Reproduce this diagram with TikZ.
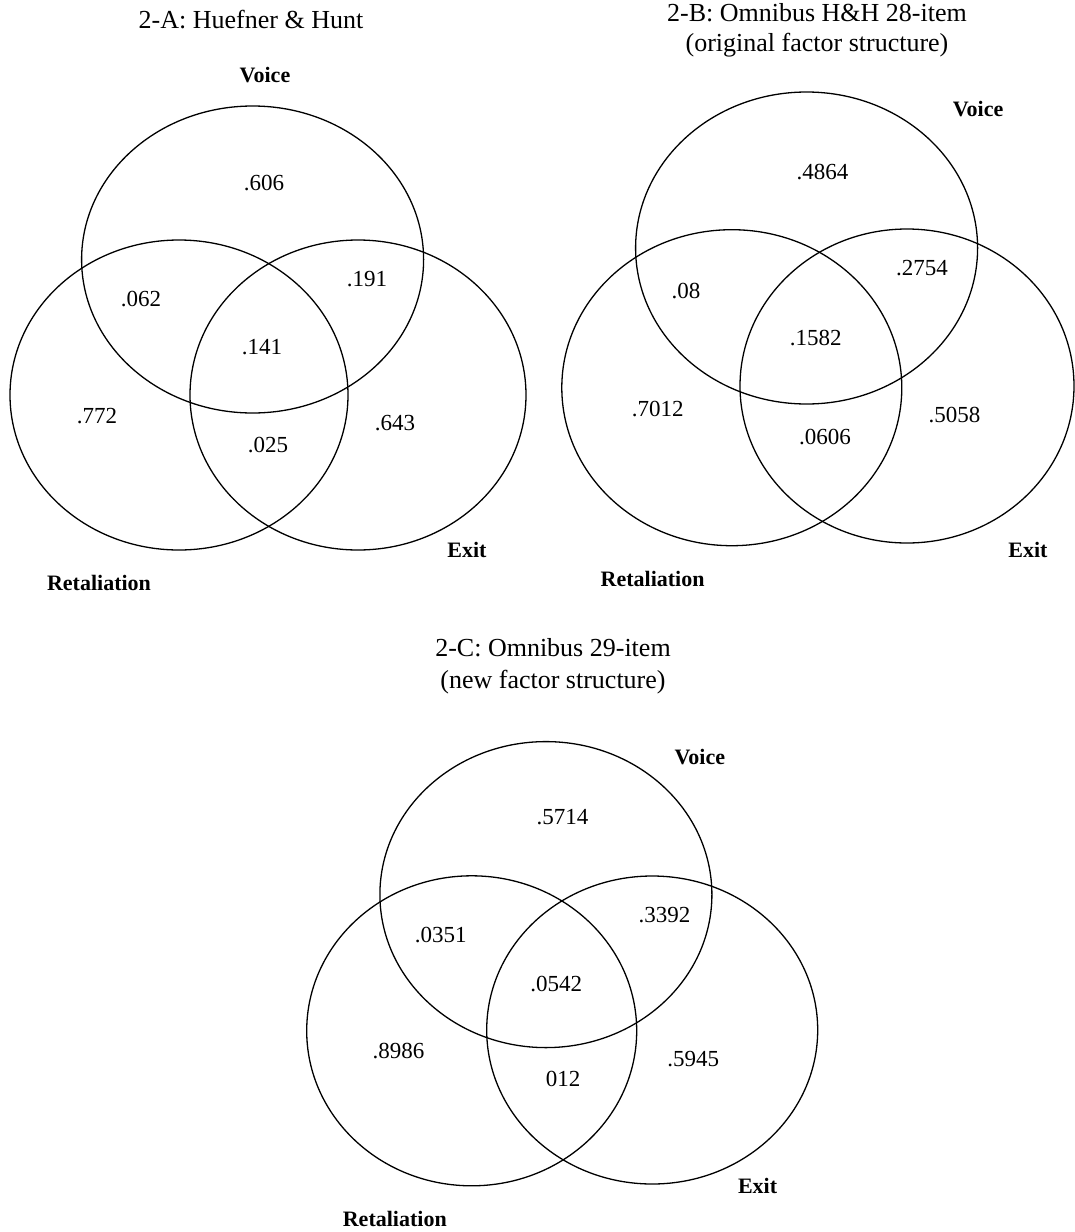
\documentclass[tikz,border=0pt]{standalone}
\usepackage{fontspec}
\setmainfont{Liberation Serif}
\begin{document}
\begin{tikzpicture}[x=1pt,y=-1pt,
  venn/.style={draw=black, line width=1.3pt},
  num/.style={inner sep=0pt, font=\fontsize{23}{23}\selectfont},
  setlbl/.style={inner sep=0pt, font=\bfseries\fontsize{22}{22}\selectfont},
  ttl/.style={inner sep=0pt, align=center, font=\fontsize{26}{30}\selectfont}]
\path[use as bounding box, fill=white] (0,0) rectangle (1075,1232);

% ---------- 2-A ----------
\node[ttl] (tA) at (251,20) {2-A: Huefner \& Hunt};
\draw[venn] (252.6,259.5) ellipse [x radius=171pt, y radius=153.5pt];
\draw[venn] (179,395) ellipse [x radius=169pt, y radius=155pt];
\draw[venn] (358,395) ellipse [x radius=168pt, y radius=155pt];
\node[setlbl] (vA) at (265,75) {Voice};
\node[setlbl] (eA) at (467,550) {Exit};
\node[setlbl] (rA) at (99,583) {Retaliation};
\node[num] (a1) at (264,183) {.606};
\node[num] (a2) at (141,299) {.062};
\node[num] (a3) at (367,279) {.191};
\node[num] (a4) at (262,347) {.141};
\node[num] (a5) at (97,416) {.772};
\node[num] (a6) at (268,445) {.025};
\node[num] (a7) at (395,423) {.643};

% ---------- 2-B ----------
\node[ttl] (tB) at (817,30.5) {2-B: Omnibus H\&H 28-item\\(original factor structure)};
\draw[venn] (806.6,248) ellipse [x radius=171pt, y radius=156pt];
\draw[venn] (731.8,387.7) ellipse [x radius=170pt, y radius=158pt];
\draw[venn] (907,386) ellipse [x radius=167pt, y radius=157pt];
\node[setlbl] (vB) at (978,109) {Voice};
\node[setlbl] (eB) at (1028,550) {Exit};
\node[setlbl] (rB) at (652.6,579) {Retaliation};
\node[num] (b1) at (822.5,172) {.4864};
\node[num] (b2) at (686,291) {.08};
\node[num] (b3) at (922,268) {.2754};
\node[num] (b4) at (815.7,338) {.1582};
\node[num] (b5) at (657.7,409) {.7012};
\node[num] (b6) at (825,437) {.0606};
\node[num] (b7) at (954.5,415) {.5058};

% ---------- 2-C ----------
\node[ttl, font=\fontsize{26}{32}\selectfont] (tC) at (553,666) {2-C: Omnibus 29-item\\(new factor structure)};
\draw[venn] (545.9,894.6) ellipse [x radius=166pt, y radius=153pt];
\draw[venn] (471.7,1030.8) ellipse [x radius=165pt, y radius=155pt];
\draw[venn] (652.2,1030) ellipse [x radius=165.5pt, y radius=154pt];
\node[setlbl] (vC) at (699.8,757.4) {Voice};
\node[setlbl] (eC) at (757.6,1186) {Exit};
\node[setlbl] (rC) at (394.8,1219) {Retaliation};
\node[num] (c1) at (562.4,817) {.5714};
\node[num] (c2) at (440.7,935.4) {.0351};
\node[num] (c3) at (664.6,915.5) {.3392};
\node[num] (c4) at (556.3,983.8) {.0542};
\node[num] (c5) at (398.6,1051.3) {.8986};
\node[num] (c6) at (563.2,1078.6) {012};
\node[num] (c7) at (693.3,1059) {.5945};
\end{tikzpicture}
\end{document}
